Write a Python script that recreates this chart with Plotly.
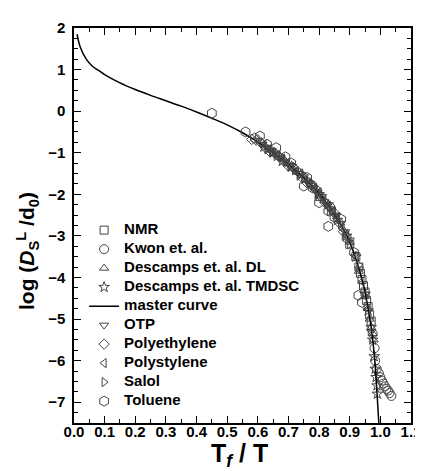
import plotly.graph_objects as go

# master curve
curve_x = [0.01, 0.02, 0.04, 0.06, 0.08, 0.10, 0.15, 0.20, 0.25, 0.30, 0.35, 0.40,
           0.45, 0.50, 0.55, 0.60, 0.65, 0.70, 0.75, 0.80, 0.85, 0.88, 0.90, 0.92,
           0.94, 0.95, 0.96, 0.97, 0.98, 0.985, 0.99, 0.995]
curve_y = [1.85, 1.55, 1.25, 1.08, 0.98, 0.88, 0.68, 0.52, 0.38, 0.25, 0.12, -0.02,
           -0.17, -0.33, -0.52, -0.74, -1.00, -1.28, -1.60, -1.98, -2.48, -2.85, -3.15, -3.55,
           -4.05, -4.35, -4.75, -5.20, -5.85, -6.30, -6.90, -7.50]

nmr_x = [0.80, 0.84, 0.90, 0.92, 0.93, 0.935, 0.94, 0.945, 0.95, 0.955, 0.96, 0.965, 0.97]
nmr_y = [-2.05, -2.40, -3.20, -3.50, -3.75, -3.90, -4.05, -4.20, -4.35, -4.55, -4.70, -4.90, -5.05]

kwon_x = [0.975, 0.981, 0.983, 0.988, 0.995, 1.000, 1.005, 1.010, 1.015, 1.020, 1.025, 1.030, 1.036]
kwon_y = [-5.35, -5.70, -6.00, -6.20, -6.30, -6.40, -6.48, -6.55, -6.62, -6.68, -6.72, -6.78, -6.85]

dl_x = [0.90, 0.93, 0.95, 0.96, 0.965, 0.97, 0.975, 0.978]
dl_y = [-3.15, -3.85, -4.45, -4.75, -5.00, -5.20, -5.35, -5.50]

tmdsc_x = [0.62, 0.65, 0.68, 0.71, 0.74, 0.77, 0.80, 0.83, 0.86, 0.89, 0.92, 0.95, 0.96,
           0.97, 0.975, 0.98, 0.983, 0.986, 0.989, 0.99]
tmdsc_y = [-0.86, -1.00, -1.20, -1.33, -1.52, -1.74, -2.00, -2.25, -2.62, -3.00, -3.50, -4.40, -4.80,
           -5.20, -5.50, -5.90, -6.20, -6.40, -6.60, -6.80]

otp_x = [0.60, 0.615, 0.63, 0.645, 0.66, 0.675, 0.69, 0.705, 0.72, 0.735, 0.75, 0.765, 0.78,
         0.795, 0.81, 0.825, 0.84, 0.855, 0.87, 0.885, 0.90, 0.93, 0.95, 0.97]
otp_y = [-0.70, -0.80, -0.88, -0.95, -1.03, -1.12, -1.24, -1.32, -1.43, -1.50, -1.58, -1.72, -1.86,
         -1.95, -2.05, -2.25, -2.40, -2.50, -2.70, -2.90, -3.10, -3.80, -4.40, -5.30]

pe_x = [0.58, 0.595, 0.61, 0.625, 0.64, 0.655, 0.67, 0.685, 0.70, 0.715, 0.73, 0.745, 0.76,
        0.775, 0.79, 0.805, 0.82, 0.835, 0.85, 0.865, 0.88]
pe_y = [-0.68, -0.70, -0.76, -0.88, -0.98, -1.00, -1.10, -1.20, -1.32, -1.35, -1.45, -1.60, -1.72,
        -1.76, -1.88, -2.05, -2.20, -2.28, -2.45, -2.68, -2.90]

ps_x = [0.62, 0.635, 0.65, 0.665, 0.68, 0.695, 0.71, 0.725, 0.74, 0.755, 0.77, 0.785, 0.80,
        0.815, 0.83, 0.845, 0.86, 0.875, 0.89, 0.92, 0.94, 0.96]
ps_y = [-0.80, -0.92, -1.02, -1.06, -1.14, -1.25, -1.36, -1.44, -1.50, -1.66, -1.78, -1.84, -1.95,
        -2.15, -2.30, -2.42, -2.55, -2.82, -3.00, -3.50, -4.10, -4.75]

salol_x = [0.63, 0.645, 0.66, 0.675, 0.69, 0.705, 0.72, 0.735, 0.75, 0.765, 0.78, 0.795, 0.81,
           0.825, 0.84, 0.855, 0.87, 0.885, 0.90, 0.93]
salol_y = [-0.92, -0.98, -1.08, -1.10, -1.20, -1.34, -1.42, -1.55, -1.63, -1.67, -1.80, -1.98, -2.10,
           -2.20, -2.35, -2.55, -2.72, -2.95, -3.20, -3.70]

tol_x = [0.45, 0.56, 0.59, 0.607, 0.63, 0.66, 0.69, 0.709, 0.75, 0.761, 0.78, 0.80,
         0.83, 0.83, 0.85, 0.872, 0.89, 0.914, 0.928, 0.94]
tol_y = [-0.05, -0.50, -0.65, -0.60, -0.80, -0.88, -1.10, -1.25, -1.80, -1.60, -1.85, -2.20,
         -2.40, -2.77, -2.55, -2.60, -3.05, -3.40, -4.43, -4.60]

GREY = '#444444'
FONT = 'Liberation Sans'
fig = go.Figure()


def label(name):
    return '<span style="font-size:15px">%s</span>' % name


def pts(x, y, name, symbol, size=8):
    fig.add_trace(go.Scatter(
        x=x, y=y, mode='markers', name=label(name),
        marker=dict(symbol=symbol, size=size, color=GREY, line=dict(color=GREY, width=1))
    ))


pts(nmr_x, nmr_y, 'NMR', 'square-open')
pts(kwon_x, kwon_y, 'Kwon et. al.', 'circle-open', 9)
pts(dl_x, dl_y, 'Descamps et. al. DL', 'triangle-up-open')
pts(tmdsc_x, tmdsc_y, 'Descamps et. al. TMDSC', 'star-open')
fig.add_trace(go.Scatter(x=curve_x, y=curve_y, mode='lines', name=label('master curve'),
                         line=dict(color='black', width=1.5, shape='spline')))
pts(otp_x, otp_y, 'OTP', 'triangle-down-open')
pts(pe_x, pe_y, 'Polyethylene', 'diamond-open')
pts(ps_x, ps_y, 'Polystylene', 'triangle-left-open')
pts(salol_x, salol_y, 'Salol', 'triangle-right-open')
pts(tol_x, tol_y, 'Toluene', 'hexagon-open', 10)

axis = dict(showline=True, linecolor='black', linewidth=1.5, mirror='allticks',
            ticks='inside', ticklen=7, tickwidth=1.2, tickcolor='black',
            showgrid=False, zeroline=False,
            tickfont=dict(family=FONT, size=15, color='black', weight='bold'))

fig.update_layout(
    width=423, height=471,
    margin=dict(l=66, r=10, t=20, b=56),
    paper_bgcolor='white', plot_bgcolor='white',
    xaxis=dict(range=[0, 1.1], dtick=0.1, tick0=0, tickformat='.1f', ticklabelstandoff=-6,
               minor=dict(dtick=0.05, ticks='inside', ticklen=4, tickcolor='black'), **axis),
    yaxis=dict(range=[-7.5, 2], dtick=1, tick0=0, ticklabelstandoff=4,
               minor=dict(dtick=0.25, ticks='inside', ticklen=4, tickcolor='black'), **axis),
    legend=dict(x=0.03, y=0.525, xanchor='left', yanchor='top', bgcolor='rgba(0,0,0,0)',
                font=dict(family=FONT, size=11, color='black', weight='bold'),
                tracegroupgap=0),
    annotations=[
        dict(text='T<sub><i>f</i></sub> / T', xref='paper', yref='paper', x=0.49, y=-0.082,
             xanchor='center', yanchor='middle', showarrow=False,
             font=dict(family=FONT, size=25, color='black', weight='bold')),
        dict(text='log (<i>D</i><sub>S</sub><sup>L</sup> /d<sub>0</sub>)', xref='paper', yref='paper',
             x=-0.14, y=0.435, textangle=-90, xanchor='center', yanchor='middle', showarrow=False,
             font=dict(family=FONT, size=21, color='black', weight='bold')),
    ],
)

fig.write_html("out.html")
